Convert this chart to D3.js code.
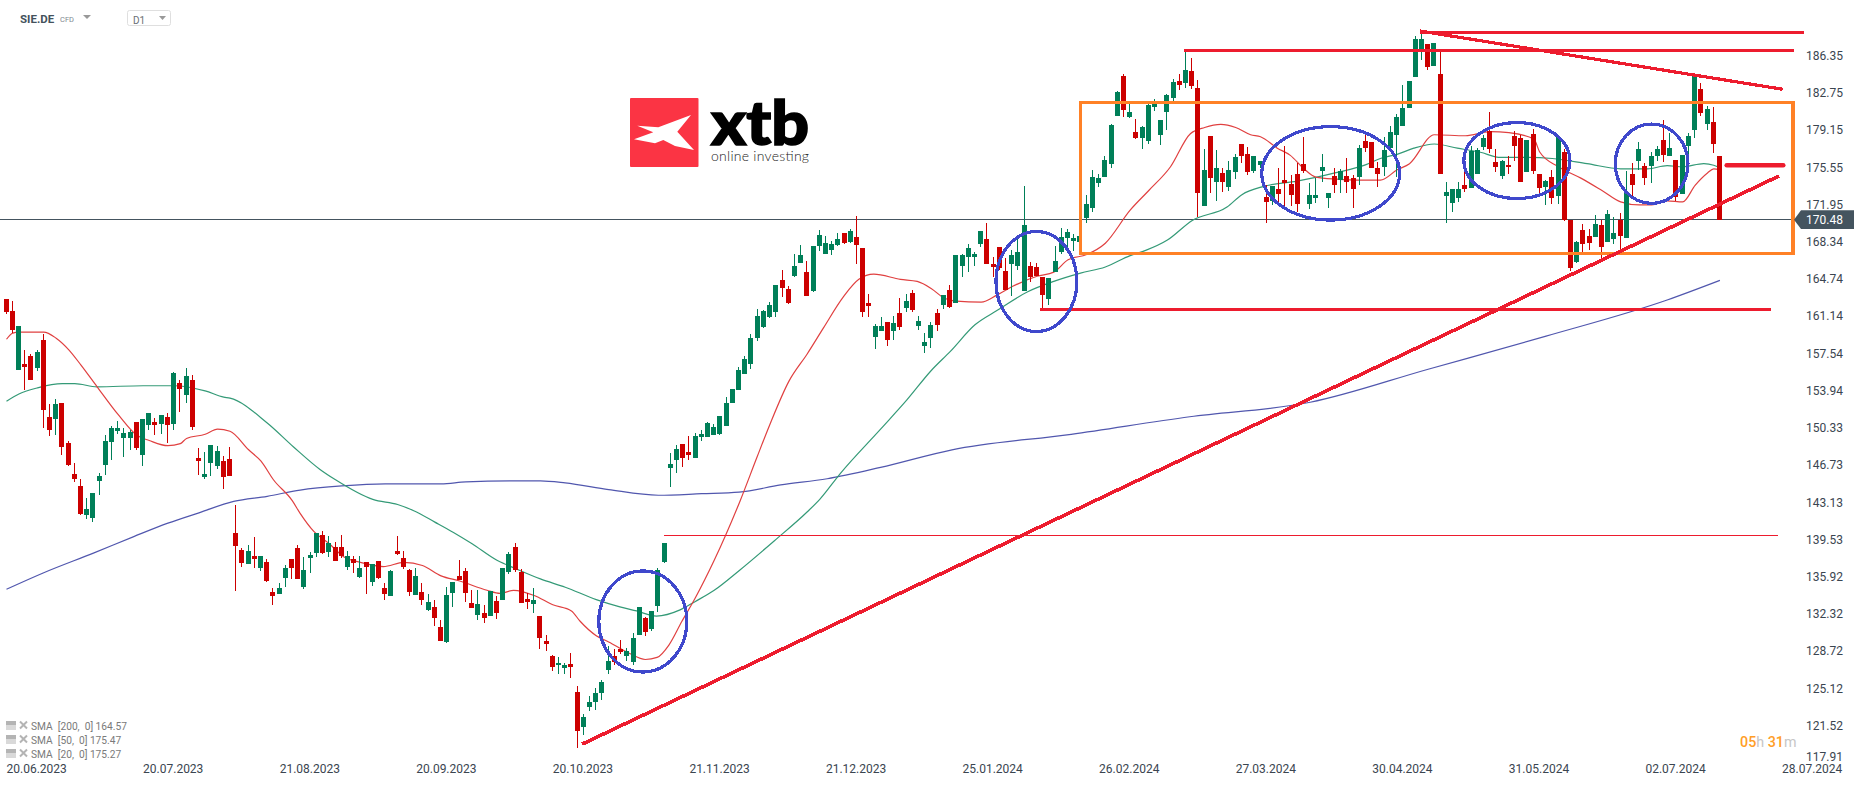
<!DOCTYPE html>
<html><head><meta charset="utf-8">
<script src="https://d3js.org/d3.v7.min.js"></script>
<style>html,body{margin:0;padding:0;background:#fff;overflow:hidden}svg{display:block}text{font-family:Roboto,sans-serif}</style>
</head><body><div id="chart"></div>
<script>
const symbol="SIE.DE", symbolKind="CFD", timeframe="D1";
const opens=[162.8,161.6,155.9,156.5,157.3,156.1,158.8,151.4,151.2,152.7,
148.9,145.9,144.7,141.9,141.6,145.2,146.7,149.0,150.0,149.3,
149.3,150.9,147.7,150.6,150.9,150.7,151.4,150.7,154.7,153.5,
155.0,147.4,145.6,146.9,146.6,147.1,147.3,140.1,138.5,137.1,
137.9,136.8,137.3,134.4,134.2,135.8,137.6,138.7,134.9,137.7,
138.2,140.0,138.3,138.8,138.8,136.9,137.6,135.9,137.3,135.4,
137.4,134.8,134.0,138.4,137.7,136.6,134.1,134.4,132.7,133.0,
131.0,129.6,134.3,136.0,136.5,133.4,132.2,132.4,132.1,133.6,
133.7,136.4,138.8,136.4,133.8,133.3,132.1,129.7,128.2,127.4,
127.1,127.5,124.8,121.4,123.3,123.8,124.7,126.9,128.2,128.9,
128.2,127.7,130.3,131.9,130.9,133.1,137.3,146.4,147.2,148.8,
148.0,147.4,149.4,149.4,149.6,149.7,150.5,152.7,154.0,155.5,
156.5,159.0,160.1,161.1,161.5,164.6,163.8,165.0,166.3,165.4,
163.6,167.9,167.2,167.5,168.0,169.2,168.3,168.8,167.7,162.4,
159.1,159.7,160.6,159.7,161.4,161.9,163.4,160.2,158.2,159.0,
161.4,162.2,163.7,162.4,166.0,166.9,166.9,168.1,168.6,166.2,
167.8,165.5,166.2,166.0,163.6,166.0,165.9,164.9,162.8,165.4,
167.3,168.7,168.4,168.3,170.6,171.6,174.0,174.6,175.9,180.5,
184.4,180.4,179.0,178.4,178.1,181.4,178.7,180.9,182.3,183.9,
183.7,184.9,183.2,171.8,178.6,174.1,175.0,173.6,175.1,177.8,
176.8,175.2,175.8,172.7,172.3,173.4,174.3,173.9,174.9,175.9,
172.0,172.6,175.2,172.6,174.7,174.3,174.7,174.5,174.6,178.1,
178.0,175.5,175.6,177.4,178.7,179.5,181.3,184.3,187.0,187.5,
185.4,184.6,172.8,172.1,172.6,173.8,173.5,174.9,177.5,179.1,
176.1,174.7,175.8,178.6,178.4,175.1,178.8,174.9,173.6,174.6,
172.8,177.0,170.4,166.4,169.5,168.9,168.8,170.0,168.3,168.6,
170.4,168.7,174.9,176.2,175.7,175.7,176.6,178.2,176.6,176.3,
173.0,177.6,179.2,183.1,179.7,179.9,176.6];
const closes=[161.5,159.8,160.2,156.2,155.0,157.7,152.1,150.1,152.6,148.5,
146.7,145.4,142.0,142.5,144.0,145.7,149.1,150.3,150.3,149.8,
149.9,148.4,151.2,151.8,150.6,151.6,150.6,155.6,154.1,155.3,
150.4,147.1,145.9,148.7,148.1,145.6,145.7,138.9,137.2,138.4,
137.6,137.9,135.5,134.0,134.8,136.8,136.8,135.7,136.6,138.0,
140.1,138.2,139.2,137.4,137.9,137.9,137.2,136.8,136.9,137.1,
135.8,134.2,136.5,138.1,136.9,134.4,136.0,133.7,133.5,131.9,
129.7,134.1,135.4,135.6,134.3,132.9,133.3,131.9,134.5,132.4,
136.8,138.1,136.6,133.4,133.5,133.7,130.0,129.4,127.2,127.6,
127.4,127.2,121.0,122.3,123.8,124.7,125.7,127.8,127.7,128.6,
128.7,130.0,133.0,130.6,132.6,136.6,139.2,146.8,148.3,147.4,
147.7,149.5,149.7,150.8,150.4,151.5,152.7,154.1,155.9,157.0,
159.0,161.2,161.6,162.2,164.2,163.9,162.4,166.0,167.1,163.1,
167.9,169.0,168.2,168.1,168.6,168.2,169.4,168.0,161.5,162.1,
160.2,160.2,158.8,160.5,160.1,162.6,161.7,160.7,158.6,160.3,
160.3,163.2,162.0,167.1,167.1,167.7,167.2,169.4,166.2,165.9,
165.8,163.7,167.1,167.3,170.0,164.9,165.0,163.2,164.8,166.5,
168.8,169.3,168.7,168.9,172.0,174.6,174.5,176.3,179.6,182.8,
181.1,180.9,178.4,179.4,181.6,181.7,180.1,182.5,183.8,183.5,
185.0,183.4,173.1,175.3,174.5,175.5,174.1,175.3,176.5,176.6,
175.1,176.6,176.2,172.2,173.7,173.0,174.0,172.9,172.0,175.2,
172.9,172.9,175.6,173.1,173.8,175.2,174.1,173.4,177.4,177.4,
175.5,174.9,177.2,179.0,180.4,181.3,183.9,188.0,188.0,185.3,
187.6,174.9,173.2,173.4,173.4,173.4,177.1,177.2,178.4,177.3,
175.6,176.2,175.6,177.6,174.1,178.2,175.2,173.5,174.2,172.6,
178.5,170.4,165.8,168.3,168.1,168.2,170.1,167.8,171.0,169.2,
168.9,173.1,173.8,177.3,174.5,176.6,177.3,176.7,177.4,172.7,
176.7,178.6,184.5,180.8,181.2,177.8,170.48];
const highs=[162.8,162.6,160.2,157.9,157.5,157.9,159.4,152.6,153.1,152.7,
149.1,146.9,145.4,143.5,144.0,146.0,149.6,150.5,151.0,150.3,
150.1,150.9,151.2,151.8,151.3,151.6,151.8,155.7,155.0,156.1,
155.4,148.4,148.0,148.7,148.6,147.6,148.5,142.9,138.7,139.0,
139.8,137.9,137.6,134.8,135.3,137.0,137.6,139.0,137.8,138.3,
140.1,140.3,139.9,139.3,140.0,138.4,137.9,137.9,137.3,137.1,
137.4,135.3,136.6,139.9,138.4,136.7,136.8,135.3,134.2,133.7,
131.7,134.9,135.4,137.5,136.8,134.6,134.6,133.2,134.5,134.0,
136.8,138.3,139.2,136.7,134.3,134.8,132.1,130.3,128.3,128.1,
127.6,128.5,125.3,122.6,124.4,125.1,125.9,129.2,128.9,129.8,
129.0,130.5,133.0,132.0,132.6,136.8,139.2,147.9,148.7,148.8,
149.5,149.8,150.1,150.9,150.7,151.5,153.3,154.1,156.2,157.3,
159.4,161.8,161.7,162.5,164.2,165.6,164.1,167.2,168.0,166.5,
167.9,169.5,168.9,168.4,169.2,169.2,169.6,170.8,167.7,163.3,
160.4,161.1,160.6,161.2,162.9,163.3,163.7,161.2,159.5,160.6,
161.8,163.2,164.2,167.1,167.2,168.1,167.3,169.4,170.2,166.9,
167.8,166.8,167.5,168.6,173.7,166.4,166.3,164.9,164.8,167.9,
169.7,169.6,169.1,168.9,172.9,175.3,174.9,176.6,179.7,182.9,
184.6,181.7,180.2,179.5,181.7,182.2,180.1,182.6,184.1,184.6,
186.7,186.1,184.0,177.3,178.6,177.2,175.5,176.2,176.8,177.8,
177.5,176.6,176.2,173.8,173.7,175.5,177.6,174.8,176.0,178.5,
174.0,174.5,176.8,173.1,175.5,175.4,176.4,174.8,177.7,178.7,
178.0,176.1,178.5,179.5,180.7,183.5,183.9,188.3,188.8,187.5,
187.6,186.7,174.1,173.4,174.1,175.3,177.6,177.4,178.7,180.9,
177.3,176.3,176.6,179.1,178.7,178.2,179.3,174.9,174.3,175.3,
178.6,177.3,170.4,168.4,170.1,169.6,170.9,170.4,171.4,170.7,
171.1,175.2,176.0,178.0,176.0,177.0,177.6,180.1,178.9,176.3,
176.7,178.9,184.5,183.7,181.5,181.4,176.6];
const lows=[161.3,159.5,155.9,154.0,155.0,155.8,150.3,149.5,149.6,147.7,
146.6,145.1,141.9,141.5,141.2,143.8,145.8,147.2,149.7,147.5,
148.2,148.2,146.6,150.1,149.6,149.7,148.9,150.1,151.9,152.7,
150.1,145.8,145.4,145.7,146.3,144.4,145.7,134.5,136.9,137.1,
136.8,136.5,135.4,133.2,134.2,134.9,135.7,135.7,134.7,136.3,
137.8,138.1,137.8,137.4,137.7,136.6,136.3,135.8,134.2,135.0,
135.7,133.7,134.0,138.0,136.7,134.0,134.1,133.2,132.6,131.1,
129.7,129.5,133.0,135.6,133.5,132.9,131.7,131.4,132.1,131.8,
133.7,136.2,136.4,133.4,132.8,132.4,128.9,128.7,126.8,126.5,
126.5,126.1,119.3,120.6,122.9,123.0,124.0,126.5,127.4,128.4,
127.8,127.4,130.3,130.2,130.7,132.5,137.2,144.6,146.0,146.5,
147.2,147.4,149.1,149.4,149.6,149.6,150.5,152.7,154.0,155.5,
156.0,158.7,160.0,161.0,161.1,163.0,162.3,164.9,166.3,163.1,
163.5,167.4,167.2,167.1,167.9,168.1,168.2,166.2,161.1,161.1,
158.0,159.7,158.2,158.8,159.8,161.5,161.5,159.8,157.6,158.1,
159.7,161.8,161.9,162.4,164.9,165.4,166.0,167.8,166.2,164.9,
165.6,163.7,163.1,165.6,163.6,164.4,165.0,161.8,162.2,165.4,
167.2,167.7,167.4,167.5,170.2,171.2,173.6,174.6,175.5,180.5,
180.4,180.3,178.3,177.3,177.8,181.0,177.7,179.2,182.0,183.0,
183.2,183.1,170.7,171.8,173.1,172.3,173.2,173.3,174.4,176.0,
174.8,175.0,175.5,170.2,171.9,171.8,171.8,171.8,171.2,175.0,
171.5,172.1,174.1,171.6,173.1,173.1,173.1,171.6,173.8,177.0,
175.5,173.6,174.7,177.2,174.6,179.5,181.3,184.3,185.9,185.0,
185.4,174.9,170.2,171.2,172.2,173.2,173.5,174.9,177.2,176.9,
175.1,174.4,174.9,176.2,174.1,175.1,174.9,173.0,171.9,172.0,
172.0,170.3,165.5,166.3,167.1,167.5,168.8,166.6,168.3,168.1,
167.5,168.7,172.8,175.3,173.8,174.0,176.2,176.1,176.6,172.3,
173.0,176.7,178.4,180.5,179.2,176.9,170.5];

// moving averages as [candle number, price]
const sma20=[[0,158.9],[1,159.5],[2,159.6],[6,159.6],[8,159.0],[10,157.9],[12,156.4],[14.6,154.3],[18,151.6],[21,149.6],[23,149.1],[26,148.6],[28,148.8],[29,149.3],[32,149.7],[34,150.2],[36,150.0],[39,148.2],[41,147.1],[43,145.3],[46,143.3],[47.3,142.05],[49.5,140.3],[52,139.1],[54.3,137.85],[57,137.3],[60.7,136.9],[64,137.3],[67,137.0],[70,136.0],[73,135.5],[77.4,134.6],[79.5,134.3],[81.7,134.6],[85,134.1],[88,133.2],[91,132.6],[92.4,131.6],[95,130.2],[97,129.6],[100.3,128.5],[102.9,127.9],[104.8,128.1],[106.7,129.3],[108.8,131.6],[110.9,133.8],[114,137.5],[118.2,143.3],[120.9,147.5],[123,150.7],[126,154.8],[129,157.5],[131.6,160.0],[134.8,163.0],[137.3,164.7],[139.7,165.2],[144,164.7],[146.7,164.5],[149,163.8],[151,162.9],[153,162.6],[157,162.5],[159.6,163.2],[162,164.0],[166,165.0],[168.7,165.4],[171,166.6],[174,167.1],[177,168.2],[181,171.4],[184,173.3],[187.5,175.6],[190.7,178.8],[193,179.4],[195.6,179.7],[198,179.4],[200.4,178.7],[202,178.5],[204.7,177.4],[206.8,176.7],[209,175.4],[210.9,174.6],[214.3,174.4],[218,174.3],[221.3,174.3],[224,175.3],[226,175.9],[230,178.7],[235,178.6],[239,179.0],[242,178.9],[246,178.3],[247,177.0],[250,175.6],[253.6,174.5],[257,173.3],[260,172.2],[263,171.9],[265,171.9],[267.5,172.3],[270,172.2],[272,173.8],[274,175.0],[275,175.4],[276,175.3]];
const sma50=[[0,152.9],[2,153.6],[5,154.2],[9,154.6],[11,154.6],[14.6,154.3],[22,154.4],[27,154.4],[32,153.9],[35,153.3],[36,153.2],[42,150.8],[46.2,148.5],[50.5,146.3],[53,145.3],[59,143.4],[63,142.9],[65.6,142.3],[69,141.2],[72,140.2],[75,139.1],[79,137.5],[82,136.7],[86,135.7],[90,134.9],[95,133.7],[98.8,133.0],[101.5,132.6],[104.7,132.1],[108.5,132.7],[110.9,133.5],[114,134.6],[118,136.5],[123.7,139.4],[129,142.2],[131,143.4],[134.3,145.9],[140.8,150.2],[145,153.0],[149,155.9],[152,157.7],[156,160.3],[159.6,161.7],[164.5,163.5],[168.7,164.5],[173,165.3],[177,165.9],[181,167.0],[183.5,167.5],[187,168.5],[191,170.4],[196.6,171.7],[199,172.9],[202.5,173.7],[207.9,174.2],[214,175.0],[219,175.8],[221.3,176.4],[224,176.8],[226.7,177.4],[230,177.8],[233.7,177.4],[237.4,177.0],[240.7,176.5],[245,176.5],[249,176.4],[254.6,175.9],[260,175.4],[264.3,175.4],[267.5,175.7],[270,175.6],[273.4,175.9],[275,175.75],[276,175.5]];
const sma200=[[0,134.7],[6,136.3],[14,138.2],[20.5,139.8],[26,141.1],[31,142.1],[36.6,143.2],[42,143.7],[47.3,144.3],[54,144.7],[61,144.9],[70,144.9],[74,145.1],[81.7,145.2],[86,145.2],[90,145.0],[97,144.35],[105,143.8],[112,143.95],[118,144.1],[124.7,144.8],[132.2,145.4],[140.8,146.5],[152.3,148.2],[171.5,149.7],[190.6,151.4],[210,152.8],[229,156.0],[248,159.2],[267.5,162.7],[276,164.6]];

const priceTicks=[186.35,182.75,179.15,175.55,171.95,168.34,164.74,161.14,157.54,153.94,150.33,146.73,143.13,139.53,135.92,132.32,128.72,125.12,121.52,117.91];
const dateTickIndex=[0,22,44,66,88,110,132,154,176,198,220,242,264,286];
const dateLabels=["20.06.2023","20.07.2023","21.08.2023","20.09.2023","20.10.2023","21.11.2023","21.12.2023","25.01.2024","26.02.2024","27.03.2024","30.04.2024","31.05.2024","02.07.2024","28.07.2024"];
const lastPrice=170.48;
const legendLabels=["SMA  [200,  0] 164.57","SMA  [50,  0] 175.47","SMA  [20,  0] 175.27"];

// analyst drawings, in candle number and price
const trendLine=[[92.7,119.7],[285.5,174.7]];
const fallingLine=[[227.7,188.74],[286.1,183.1]];
const topLine=[[227.7,188.6],[289.6,188.6]];
const highLine=[[189.7,186.9],[288,186.9]];
const supportLine=[[166.5,161.8],[284.2,161.8]];
const gapLine=[[105.9,139.9],[285.4,139.9]];
const shortLine=[[277.1,175.74],[286.2,175.74]];
const rangeBox=[172.95,181.8,287.75,167.22];
const circles=[[102.5,131.58,7.09,4.89],[165.9,164.49,6.52,4.84],[213.3,174.96,11.11,4.52],[243.3,176.2,8.54,3.68],[265,175.89,5.85,3.84]];

const W=1866,H=787;
const UP="#007f58",DOWN="#cc0000",ANN_RED="#ed1c2e",ORANGE="#ff8126",BLUE="#3f48cc",INK="#3a4550";
const x=d3.scaleLinear().domain([0,286]).range([6.5,1782]);
const y=d3.scaleLinear().domain([117.91,186.35]).range([762.7,55.7]);
const svg=d3.select("#chart").append("svg").attr("width",W).attr("height",H).attr("viewBox",`0 0 ${W} ${H}`);

// price line
svg.append("line").attr("x1",0).attr("x2",1794).attr("y1",y(lastPrice)).attr("y2",y(lastPrice)).attr("stroke","#44545f").attr("stroke-width",1).attr("shape-rendering","crispEdges");

// moving averages
const line=d3.line().x(d=>x(d[0])).y(d=>y(d[1])).curve(d3.curveMonotoneX);
[[sma200,"#5157ae"],[sma50,"#349a77"],[sma20,"#e04040"]].forEach(([s,c])=>{
  svg.append("path").datum(s).attr("d",line).attr("fill","none").attr("stroke",c).attr("stroke-width",1.2);
});

// candles
const candles=d3.range(opens.length).map(i=>({i,o:opens[i],c:closes[i],h:highs[i],l:lows[i]}));
const g=svg.append("g").attr("shape-rendering","crispEdges");
const cg=g.selectAll("g").data(candles).join("g").attr("fill",d=>d.c>=d.o?UP:DOWN);
cg.append("rect").attr("x",d=>Math.floor(x(d.i)-2.5)+2).attr("width",1)
  .attr("y",d=>Math.round(y(d.h))).attr("height",d=>Math.max(1,Math.round(y(d.l))-Math.round(y(d.h))));
cg.append("rect").attr("x",d=>Math.floor(x(d.i)-2.5)).attr("width",5)
  .attr("y",d=>Math.round(y(Math.max(d.o,d.c)))).attr("height",d=>Math.max(1,Math.round(y(Math.min(d.o,d.c)))-Math.round(y(Math.max(d.o,d.c)))));

// drawings
const plain=d3.line().x(d=>x(d[0])).y(d=>y(d[1]));
const ann=svg.append("g").attr("fill","none");
ann.append("rect").attr("x",x(rangeBox[0])+0.5).attr("y",y(rangeBox[1])).attr("width",x(rangeBox[2])-x(rangeBox[0])-0.5).attr("height",y(rangeBox[3])-y(rangeBox[1])).attr("stroke",ORANGE).attr("stroke-width",3.4).attr("shape-rendering","crispEdges");
[[trendLine,3.6],[fallingLine,3.2],[topLine,3],[highLine,3],[supportLine,3]].forEach(([s,w])=>{
  ann.append("path").attr("d",plain(s)).attr("stroke",ANN_RED).attr("stroke-width",w).attr("shape-rendering","crispEdges");
});
ann.append("path").attr("d",plain(gapLine)).attr("stroke",ANN_RED).attr("stroke-width",1).attr("shape-rendering","crispEdges");
ann.append("path").attr("d",plain(shortLine)).attr("stroke",ANN_RED).attr("stroke-width",4.6).attr("stroke-linecap","round");
ann.selectAll("ellipse").data(circles).join("ellipse")
  .attr("cx",d=>x(d[0])).attr("cy",d=>y(d[1]))
  .attr("rx",d=>x(d[2])-x(0)).attr("ry",d=>y(0)-y(d[3]))
  .attr("stroke",BLUE).attr("stroke-width",3.2).attr("shape-rendering","crispEdges");

// axes
const yAxis=d3.axisRight(y).tickValues(priceTicks).tickSize(0).tickPadding(0).tickFormat(d3.format(".2f"));
const ya=svg.append("g").attr("transform","translate(1806,0)").call(yAxis);
ya.select(".domain").remove();
ya.selectAll("text").attr("fill",INK).style("font-size","12px").style("font-family","Roboto").attr("x",0);
ya.selectAll(".tick").filter(d=>d===117.91).select("text").attr("dy","-0.15em");
const xAxis=d3.axisBottom(x).tickValues(dateTickIndex).tickSize(0).tickPadding(0).tickFormat((d,i)=>dateLabels[i]);
const xa=svg.append("g").attr("transform","translate(-0.5,764)").call(xAxis);
xa.select(".domain").remove();
xa.selectAll("text").attr("fill",INK).attr("text-anchor","start").style("font-size","12px").style("font-family","Roboto");

// last price flag
const fy=y(lastPrice);
svg.append("path").attr("d",d3.line()([[1794,fy],[1801,fy-9.3],[1854,fy-9.3],[1854,fy+9.3],[1801,fy+9.3]])+"Z").attr("fill","#44545f");
svg.append("text").attr("x",1806).attr("y",fy+4.3).attr("fill","#fff").style("font-size","12px").text(d3.format(".2f")(lastPrice));

// header
svg.append("text").attr("x",20).attr("y",23).attr("fill","#44525c").style("font-size","11.5px").style("font-weight",700).text(symbol);
svg.append("text").attr("x",60).attr("y",22).attr("fill","#808890").style("font-size","7.5px").text(symbolKind);
svg.append("path").attr("d","M83,15H91L87,19Z").attr("fill","#999");
svg.append("rect").attr("x",127.5).attr("y",10.5).attr("width",43).attr("height",15).attr("rx",2).attr("fill","#fff").attr("stroke","#dfdfdf");
svg.append("text").attr("x",133).attr("y",24).attr("fill","#6a7075").style("font-size","10px").text(timeframe);
svg.append("path").attr("d","M159,16H166L162.5,20Z").attr("fill","#999");

// logo
svg.append("rect").attr("x",630).attr("y",98).attr("width",68.5).attr("height",69).attr("rx",1).attr("fill","#fb3444");
svg.append("path").attr("d","M637.3,125.7L658.3,127.3L691,115L677.3,131.7L694,150L675,146L663.3,140L655,143.3L634,139.3L653.3,132.3Z").attr("fill","#fff");
svg.append("text").attr("x",711).attr("y",145).attr("fill","#000").attr("stroke","#000").attr("stroke-width",1.6).attr("textLength",98).attr("lengthAdjust","spacingAndGlyphs").style("font-family","Lato").style("font-weight",900).style("font-size","60px").text("xtb");
svg.append("text").attr("x",711).attr("y",161).attr("fill","#222").attr("textLength",98).style("font-family","Lato").style("font-weight",300).style("font-size","14px").text("online investing");

// indicator legend
const lg=svg.append("g").selectAll("g").data(legendLabels).join("g").attr("transform",(d,i)=>`translate(0,${726.5+14*i})`);
lg.append("text").attr("x",31).attr("y",3.5).attr("fill","#7a7a7a").style("font-size","10.2px").style("white-space","pre").text(d=>d);
lg.append("path").attr("d","M6,-5.5H16V-1H6ZM6,0H16V1H6ZM6,2H16V3H6Z").attr("fill","#b4b4b4");
lg.append("path").attr("d","M20,-5L27,2M27,-5L20,2").attr("stroke","#b4b4b4").attr("stroke-width",2).attr("fill","none");

// countdown
const cd=svg.append("text").attr("x",1740).attr("y",747).style("font-size","14.3px");
cd.append("tspan").attr("fill","#ff9e27").style("font-weight",500).text("05");
cd.append("tspan").attr("fill","#c6c6c6").text("h ");
cd.append("tspan").attr("fill","#ff9e27").style("font-weight",500).text("31");
cd.append("tspan").attr("fill","#c6c6c6").text("m");
</script></body></html>
